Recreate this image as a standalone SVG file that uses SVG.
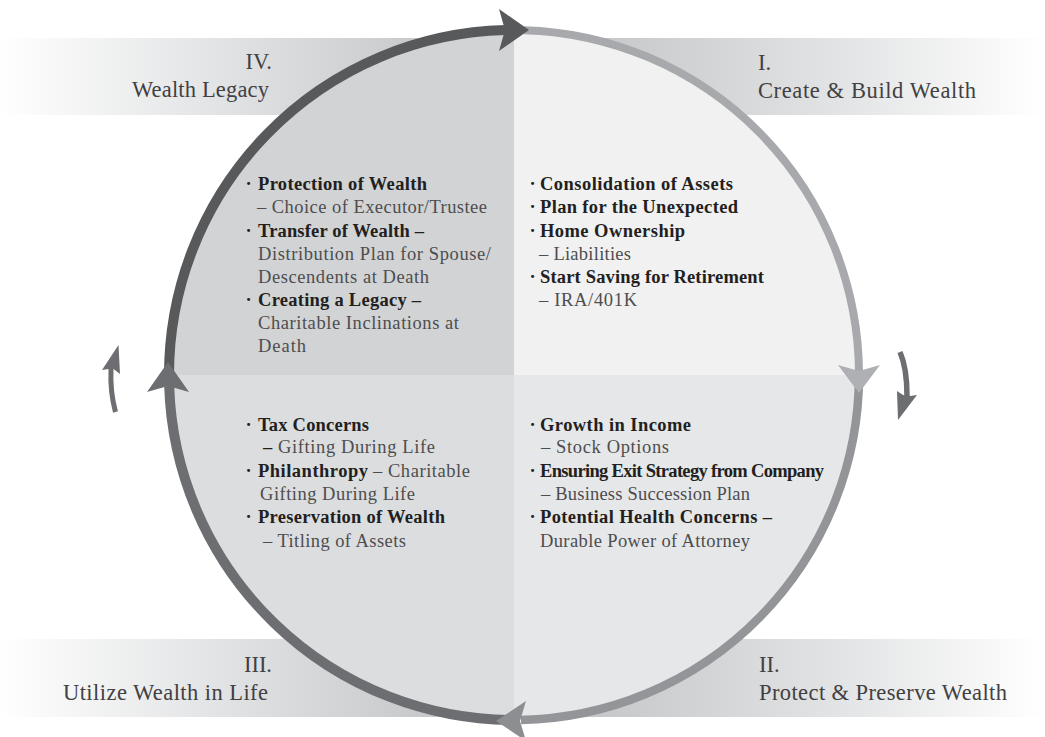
<svg xmlns="http://www.w3.org/2000/svg" width="1045" height="737" viewBox="0 0 1045 737">
<style>
text{font-family:"Liberation Serif","Times New Roman",serif}
.h{font-size:22.5px;fill:#414042}
.b{font-size:18.5px;font-weight:bold;fill:#231f20}
.r{font-size:18.5px;fill:#4d4d4f}
.dot{font-size:18.5px;font-weight:bold;fill:#231f20;text-anchor:middle}
.e{text-anchor:end}
</style>
<defs>
<linearGradient id="gl" gradientUnits="userSpaceOnUse" x1="0" y1="0" x2="470" y2="0">
<stop offset="0" stop-color="#ffffff"/>
<stop offset="0.4" stop-color="#e6e7e8"/>
<stop offset="1" stop-color="#c2c3c5"/>
</linearGradient>
<linearGradient id="gr" gradientUnits="userSpaceOnUse" x1="560" y1="0" x2="1045" y2="0">
<stop offset="0" stop-color="#c2c3c5"/>
<stop offset="0.6" stop-color="#e4e5e6"/>
<stop offset="1" stop-color="#ffffff"/>
</linearGradient>
</defs>

<g id="banners">
<rect x="0" y="38" width="514" height="77" fill="url(#gl)"/>
<rect x="514" y="38" width="531" height="77" fill="url(#gr)"/>
<rect x="0" y="639" width="514" height="78" fill="url(#gl)"/>
<rect x="514" y="639" width="531" height="78" fill="url(#gr)"/>
</g>

<g id="quadrant-fills">
<path d="M514,375 L169,375 A345,345 0 0 1 514,30 Z" fill="#d1d3d4"/>
<path d="M514,375 L514,30 A345,345 0 0 1 859,375 Z" fill="#f1f1f2"/>
<path d="M514,375 L859,375 A345,345 0 0 1 514,720 Z" fill="#e6e7e8"/>
<path d="M514,375 L514,720 A345,345 0 0 1 169,375 Z" fill="#dcddde"/>
</g>

<g id="connectors" fill="none">
<path d="M169,375 A345,345 0 0 1 505,30.1" stroke="#58595b" stroke-width="10"/>
<path d="M524,30.15 A345,345 0 0 1 858.99,372" stroke="#a7a9ac" stroke-width="8"/>
<path d="M859,375 A345,345 0 0 1 521,719.93" stroke="#939598" stroke-width="8.5"/>
<path d="M514,720 A345,345 0 0 1 169.18,386" stroke="#6d6e71" stroke-width="10"/>
<polygon points="499,9 529,30 499,51 505,30" fill="#58595b"/>
<polygon points="838,365 859,393 880,365 859,371" fill="#aeb0b3"/>
<polygon points="526,701 496,721 526,741 520,721" fill="#8c8e91"/>
<polygon points="147,392 168,362 189,392 168,386" fill="#6d6e71"/>
<path d="M115.5,412 Q110,392 111,369" stroke="#6d6e71" stroke-width="5"/>
<polygon points="118.5,345 120,374 113.5,369 108.5,369 102,370" fill="#6d6e71"/>
<path d="M900,352 Q907,368 907,396" stroke="#6d6e71" stroke-width="5.5"/>
<polygon points="897,391 903,395 910,396 917,395 898,420" fill="#6d6e71"/>
</g>

<g id="stage-IV">
<text class="h e" x="272" y="69">IV.</text>
<text class="h e" x="269" y="97" textLength="137">Wealth Legacy</text>
<text class="dot" x="248.5" y="190">·</text>
<text class="b" x="258" y="190" textLength="169">Protection of Wealth</text>
<text class="r" x="257" y="213" textLength="230">– Choice of Executor/Trustee</text>
<text class="dot" x="248.5" y="237">·</text>
<text class="b" x="258" y="237" textLength="166">Transfer of Wealth –</text>
<text class="r" x="258" y="260" textLength="233">Distribution Plan for Spouse/</text>
<text class="r" x="258" y="283" textLength="171">Descendents at Death</text>
<text class="dot" x="248.5" y="306">·</text>
<text class="b" x="258" y="306" textLength="163">Creating a Legacy –</text>
<text class="r" x="258" y="329" textLength="201">Charitable Inclinations at</text>
<text class="r" x="258" y="352" textLength="48">Death</text>
</g>

<g id="stage-I">
<text class="h" x="758" y="70">I.</text>
<text class="h" x="758" y="98" textLength="218">Create &amp; Build Wealth</text>
<text class="dot" x="532.5" y="190">·</text>
<text class="b" x="540" y="190" textLength="193">Consolidation of Assets</text>
<text class="dot" x="532.5" y="213">·</text>
<text class="b" x="540" y="213" textLength="198">Plan for the Unexpected</text>
<text class="dot" x="532.5" y="237">·</text>
<text class="b" x="540" y="237" textLength="145">Home Ownership</text>
<text class="r" x="539" y="260" textLength="92">– Liabilities</text>
<text class="dot" x="532.5" y="283">·</text>
<text class="b" x="540" y="283" textLength="224">Start Saving for Retirement</text>
<text class="r" x="539" y="306" textLength="98">– IRA/401K</text>
</g>

<g id="stage-II">
<text class="h" x="759" y="672">II.</text>
<text class="h" x="759" y="700" textLength="248">Protect &amp; Preserve Wealth</text>
<text class="dot" x="532.5" y="431">·</text>
<text class="b" x="540" y="431" textLength="151">Growth in Income</text>
<text class="r" x="541" y="453" textLength="128">– Stock Options</text>
<text class="dot" x="532.5" y="477">·</text>
<text class="b" x="540" y="477" textLength="284">Ensuring Exit Strategy from Company</text>
<text class="r" x="541" y="500" textLength="209">– Business Succession Plan</text>
<text class="dot" x="532.5" y="523">·</text>
<text class="b" x="540" y="523" textLength="232">Potential Health Concerns –</text>
<text class="r" x="540" y="547" textLength="210">Durable Power of Attorney</text>
</g>

<g id="stage-III">
<text class="h e" x="272" y="672">III.</text>
<text class="h e" x="268" y="700" textLength="205">Utilize Wealth in Life</text>
<text class="dot" x="248.5" y="431">·</text>
<text class="b" x="258" y="431" textLength="111">Tax Concerns</text>
<text class="b" x="263" y="453">–</text>
<text class="r" x="278" y="453" textLength="157">Gifting During Life</text>
<text class="dot" x="248.5" y="477">·</text>
<text class="b" x="258" y="477" textLength="110">Philanthropy</text>
<text class="r" x="373" y="477" textLength="97">– Charitable</text>
<text class="r" x="260" y="500" textLength="155">Gifting During Life</text>
<text class="dot" x="248.5" y="523">·</text>
<text class="b" x="258" y="523" textLength="187">Preservation of Wealth</text>
<text class="r" x="263" y="547" textLength="143">– Titling of Assets</text>
</g>
</svg>
